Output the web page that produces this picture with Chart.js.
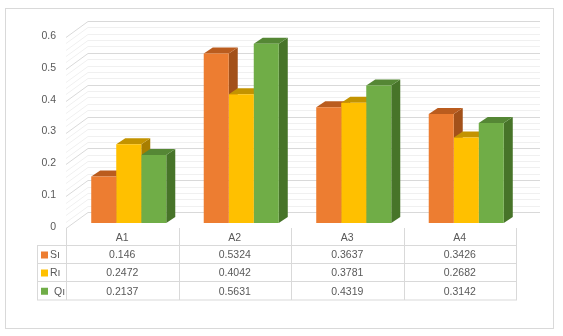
<!DOCTYPE html>
<html lang="en">
<head>
    <meta charset="UTF-8">
    <title>3D column chart with data table</title>
    <script src="https://cdn.jsdelivr.net/npm/chart.js@4.4.5/dist/chart.umd.min.js"></script>
    <style>
        body { margin: 0; background: #fff; }
    </style>
</head>
<body>
<canvas id="myChart" width="563" height="336"></canvas>

<script>
    const categories = ['A1', 'A2', 'A3', 'A4'];
    const seriesNames = ['S\u0131', 'R\u0131', 'Q\u0131'];
    const sValues = [0.146, 0.5324, 0.3637, 0.3426];
    const rValues = [0.2472, 0.4042, 0.3781, 0.2682];
    const qValues = [0.2137, 0.5631, 0.4319, 0.3142];
    const yTickLabels = ['0', '0.1', '0.2', '0.3', '0.4', '0.5', '0.6'];

    const frontColors = ['#ED7D31', '#FFC000', '#70AD47'];
    const topColors = ['#BA5C1E', '#C39300', '#558735'];
    const sideColors = ['#A3511A', '#A87E00', '#477429'];

    const FONT = '10.5px "Liberation Sans", Arial, sans-serif';
    const TEXT = '#595959';
    const depthX = 9, depthY = 6;

    // 3D look: walls, gridlines, bar tops and sides
    const walls = {
        id: 'walls',
        beforeDatasetsDraw(chart) {
            const ctx = chart.ctx;
            const y = chart.scales.y;
            ctx.save();
            ctx.lineWidth = 1;
            for (let i = 0; i <= 30; i++) {
                const v = i / 50;
                const major = i % 5 === 0;
                const py = y.getPixelForValue(v);
                const yb = Math.round(py - 11) + 0.5;
                const yf = Math.round(py + 5) + 0.5;
                ctx.strokeStyle = major ? '#d9d9d9' : '#f0f0f0';
                ctx.beginPath();
                ctx.moveTo(66, yf);
                ctx.lineTo(88, yb);
                ctx.lineTo(540, yb);
                ctx.stroke();
            }
            // y tick labels at the front edge
            ctx.fillStyle = TEXT;
            ctx.font = FONT;
            ctx.textAlign = 'right';
            ctx.textBaseline = 'middle';
            yTickLabels.forEach(function (t) {
                ctx.fillText(t, 56, y.getPixelForValue(parseFloat(t)) + 4);
            });

            chart.data.datasets.forEach(function (ds, d) {
                const meta = chart.getDatasetMeta(d);
                meta.data.forEach(function (bar) {
                    const p = bar.getProps(['x', 'y', 'base', 'width'], true);
                    const l = p.x - p.width / 2, r = p.x + p.width / 2;
                    ctx.fillStyle = sideColors[d];
                    ctx.beginPath();
                    ctx.moveTo(r, p.y);
                    ctx.lineTo(r + depthX, p.y - depthY);
                    ctx.lineTo(r + depthX, p.base - depthY);
                    ctx.lineTo(r, p.base);
                    ctx.closePath();
                    ctx.fill();
                    ctx.fillStyle = topColors[d];
                    ctx.beginPath();
                    ctx.moveTo(l, p.y);
                    ctx.lineTo(l + depthX, p.y - depthY);
                    ctx.lineTo(r + depthX, p.y - depthY);
                    ctx.lineTo(r, p.y);
                    ctx.closePath();
                    ctx.fill();
                });
            });
            ctx.restore();
        },
        afterDraw(chart) {
            const ctx = chart.ctx;
            const x0 = 66, colW = 112.5, legL = 37;
            const rows = [228, 245.5, 263.5, 281.5, 300];
            const series = [sValues, rValues, qValues];
            ctx.save();
            ctx.strokeStyle = '#d9d9d9';
            ctx.lineWidth = 1;
            ctx.beginPath();
            for (let c = 0; c <= categories.length; c++) {
                const x = Math.round(x0 + c * colW) + 0.5;
                ctx.moveTo(x, rows[0]);
                ctx.lineTo(x, rows[4]);
            }
            ctx.moveTo(legL + 0.5, rows[1]);
            ctx.lineTo(legL + 0.5, rows[4]);
            for (let r = 1; r < rows.length; r++) {
                ctx.moveTo(legL, rows[r]);
                ctx.lineTo(x0 + categories.length * colW + 1, rows[r]);
            }
            ctx.stroke();

            ctx.font = FONT;
            ctx.fillStyle = TEXT;
            ctx.textAlign = 'center';
            ctx.textBaseline = 'middle';
            categories.forEach(function (cat, c) {
                const cx = x0 + c * colW + colW / 2;
                ctx.fillText(cat, cx, (rows[0] + rows[1]) / 2 + 1);
                series.forEach(function (vals, s) {
                    ctx.fillText(String(vals[c]), cx, (rows[s + 1] + rows[s + 2]) / 2 + 1);
                });
            });
            seriesNames.forEach(function (name, s) {
                const cy = (rows[s + 1] + rows[s + 2]) / 2;
                ctx.fillStyle = frontColors[s];
                ctx.fillRect(41, cy - 3, 7, 7);
                ctx.fillStyle = TEXT;
                ctx.textAlign = 'left';
                ctx.fillText(name, s === 2 ? 54 : 50, cy + 1);
            });

            // outer frame
            ctx.strokeStyle = '#d9d9d9';
            ctx.strokeRect(5.5, 8.5, 548, 320);
            ctx.restore();
        }
    };

    const config = {
        type: 'bar',
        data: {
            labels: categories,
            datasets: [
                { label: seriesNames[0], data: sValues, backgroundColor: frontColors[0] },
                { label: seriesNames[1], data: rValues, backgroundColor: frontColors[1] },
                { label: seriesNames[2], data: qValues, backgroundColor: frontColors[2] }
            ]
        },
        options: {
            responsive: false,
            animation: false,
            layout: {
                padding: { left: 72.5, right: 40.5, top: 32, bottom: 113 }
            },
            datasets: {
                bar: { categoryPercentage: 0.667, barPercentage: 1, borderWidth: 0 }
            },
            scales: {
                x: { display: false },
                y: { display: false, min: 0, max: 0.6 }
            },
            plugins: {
                legend: { display: false },
                tooltip: { enabled: false }
            }
        },
        plugins: [walls]
    };

    const ctx = document.getElementById('myChart').getContext('2d');
    const myChart = new Chart(ctx, config);
</script>
</body>
</html>
